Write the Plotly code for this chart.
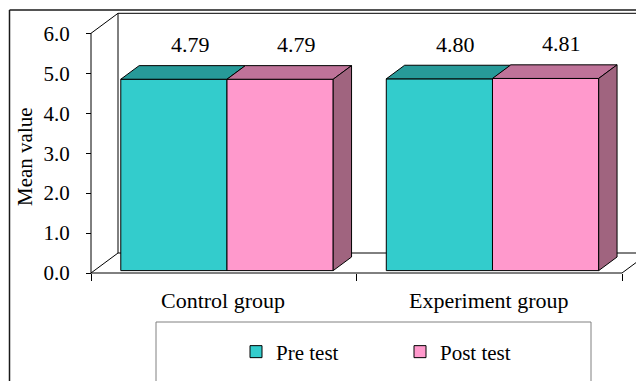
import plotly.graph_objects as go

# ---------------- data ----------------
categories = ["Control group", "Experiment group"]
series_names = ["Pre test", "Post test"]
pre_test = [4.79, 4.80]
post_test = [4.79, 4.81]
y_ticks = [0, 1, 2, 3, 4, 5, 6]
y_axis_title = "Mean value"

# ---------------- geometry / style ----------------
W, H = 644, 381
PAGE_OFF = 8                    # default page body margin (px)
X0_PX, Y0_PX = 91, 273          # screen pixel of front-plane origin
PX_X, PX_Y = 265.5, 39.95       # pixels per category / per unit
DX, DY = 27 / PX_X, 20 / PX_Y   # full wall depth in data units
D0, D1 = 0.12, 0.80             # bar front / back depth fraction
BAR_W = 0.4
FONT = "Liberation Serif"

fx0, fy0 = X0_PX - PAGE_OFF, Y0_PX - PAGE_OFF
x_range = [-fx0 / PX_X, (W - fx0) / PX_X]
y_range = [-(H - fy0) / PX_Y, fy0 / PX_Y]
ymax_wall = max(y_ticks)
ncat = len(categories)

styles = [
    dict(front="#33CCCC", top="#279A99", side="#1F7F80"),
    dict(front="#FF99CC", top="#BF7399", side="#A0647F"),
]
series_vals = [pre_test, post_test]


def px2paper_x(px):
    return (px - PAGE_OFF) / W


def px2paper_y(py):
    return 1 - (py - PAGE_OFF) / H


fig = go.Figure()

base = D0 * DY
ddx, ddy = (D1 - D0) * DX, (D1 - D0) * DY

# front faces (bars)
for i, (name, vals) in enumerate(zip(series_names, series_vals)):
    fig.add_trace(go.Bar(
        x=[k + 0.5 for k in range(ncat)], y=vals, base=base,
        width=BAR_W, offset=-BAR_W + i * BAR_W + D0 * DX,
        name=name,
        marker=dict(color=styles[i]["front"], line=dict(color="black", width=1)),
        hovertemplate="%{y}<extra>" + name + "</extra>",
    ))

# top and side faces
for i, (name, vals) in enumerate(zip(series_names, series_vals)):
    tx, ty, sx, sy = [], [], [], []
    for k, v in enumerate(vals):
        xl = k + 0.5 - BAR_W + i * BAR_W + D0 * DX
        xr = xl + BAR_W
        top = base + v
        tx += [xl, xr, xr + ddx, xl + ddx, xl, None]
        ty += [top, top, top + ddy, top + ddy, top, None]
        sx += [xr, xr, xr + ddx, xr + ddx, xr, None]
        sy += [base, top, top + ddy, base + ddy, base, None]
    fig.add_trace(go.Scatter(x=tx, y=ty, mode="lines", fill="toself",
                             fillcolor=styles[i]["top"], line=dict(color="black", width=1),
                             showlegend=False, hoverinfo="skip"))
    if i == len(series_names) - 1:
        fig.add_trace(go.Scatter(x=sx, y=sy, mode="lines", fill="toself",
                                 fillcolor=styles[i]["side"], line=dict(color="black", width=1),
                                 showlegend=False, hoverinfo="skip"))

# walls / floor / front axis lines
line = dict(color="black", width=1)
wall_lines = [
    (DX, DY, DX, ymax_wall + DY),
    (DX, ymax_wall + DY, x_range[1], ymax_wall + DY),
    (DX, DY, x_range[1], DY),
    (0, 0, DX, DY),
    (0, ymax_wall, DX, ymax_wall + DY),
    (0, 0, ncat, 0),
    (ncat, 0, ncat + DX, DY),
    (0, 0, 0, ymax_wall),
]
for x0, y0, x1, y1 in wall_lines:
    fig.add_shape(type="line", xref="x", yref="y", x0=x0, y0=y0, x1=x1, y1=y1,
                  line=line, layer="below")

# value labels
annotations = []
for i, vals in enumerate(series_vals):
    for k, v in enumerate(vals):
        xc = k + 0.5 - BAR_W + i * BAR_W + BAR_W / 2 + D1 * DX
        annotations.append(dict(x=xc, y=base + v + (D1 - D0) * DY, xref="x", yref="y",
                                text=f"{v:.2f}", showarrow=False, yanchor="middle",
                                xshift=-2, yshift=21,
                                font=dict(family=FONT, size=22, color="black")))
# category labels
for k, c in enumerate(categories):
    annotations.append(dict(x=k + 0.5, y=0, xref="x", yref="y", text=c, showarrow=False,
                            yanchor="middle", yshift=-27, xshift=-1,
                            font=dict(family=FONT, size=22, color="black")))
# axis title
annotations.append(dict(x=px2paper_x(25), y=px2paper_y(157), xref="paper", yref="paper",
                        xanchor="center", yanchor="middle",
                        text=y_axis_title, textangle=-90, showarrow=False,
                        font=dict(family=FONT, size=21, color="black")))

# outer chart border & legend box
shapes_paper = [
    dict(type="line", x0=px2paper_x(9.5), y0=px2paper_y(10), x1=px2paper_x(9.5), y1=-0.1,
         line=dict(color="#1a1a1a", width=1.5)),
    dict(type="line", x0=px2paper_x(9.5), y0=px2paper_y(10), x1=1.1, y1=px2paper_y(10),
         line=dict(color="#1a1a1a", width=1.5)),
    dict(type="rect", x0=px2paper_x(156), y0=px2paper_y(322), x1=px2paper_x(591), y1=-0.2,
         line=dict(color="#808080", width=1)),
]
for s in shapes_paper:
    fig.add_shape(xref="paper", yref="paper", **s)

fig.update_layout(
    width=W, height=H,
    margin=dict(l=0, r=0, t=0, b=0, autoexpand=False),
    paper_bgcolor="white", plot_bgcolor="white",
    showlegend=True,
    legend=dict(orientation="h", x=px2paper_x(236), xanchor="left",
                y=px2paper_y(352), yanchor="middle",
                entrywidth=119, entrywidthmode="pixels",
                font=dict(family=FONT, size=21, color="black"),
                bgcolor="rgba(0,0,0,0)"),
    annotations=annotations,
    xaxis=dict(range=x_range, showgrid=False, zeroline=False, showline=False,
               anchor="free", position=px2paper_y(Y0_PX),
               tickmode="array", tickvals=list(range(ncat + 1)),
               ticktext=[""] * (ncat + 1), ticks="outside", ticklen=7,
               tickcolor="black", fixedrange=True),
    yaxis=dict(range=y_range, showgrid=False, zeroline=False, showline=False,
               anchor="free", position=px2paper_x(X0_PX),
               tickmode="array", tickvals=y_ticks, tickformat=".1f",
               ticks="outside", ticklen=5, tickcolor="black",
               ticklabelstandoff=12,
               tickfont=dict(family=FONT, size=21, color="black"), fixedrange=True),
)

fig.write_html("out.html")
